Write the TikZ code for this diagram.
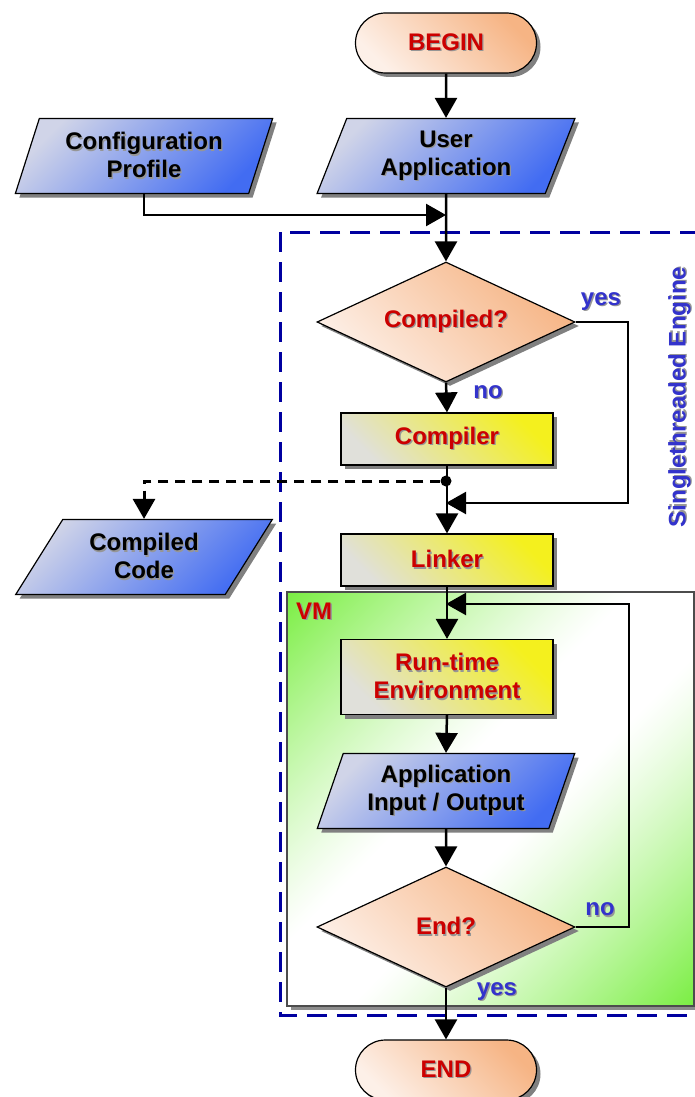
\documentclass[tikz,border=0pt]{standalone}
\usepackage{fontspec}
\setmainfont{Liberation Sans}
\usetikzlibrary{arrows.meta,shapes.geometric,shapes.misc,shadows}

\definecolor{txtred}{RGB}{204,0,0}
\definecolor{lblblue}{RGB}{51,51,204}
\definecolor{frameblue}{RGB}{0,0,160}
\definecolor{peachD}{RGB}{246,180,132}
\definecolor{peachL}{RGB}{253,240,232}
\definecolor{yelD}{RGB}{244,240,30}
\definecolor{yelL}{RGB}{224,224,218}
\definecolor{bluD}{RGB}{66,108,242}
\definecolor{bluL}{RGB}{208,212,232}
\definecolor{txtshadow}{RGB}{150,150,150}

% green in the top-left and bottom-right corners, white along the other diagonal
% (f = clamp((|y-x|/50 - 0.15)/0.85)^1.2, mixed from white to RGB 122,238,66)
\pgfdeclarefunctionalshading{vmdiag}{\pgfpointorigin}{\pgfpoint{100bp}{100bp}}{}{
  exch sub abs 50 div 0.15 sub 0.85 div dup abs add 2 div 1.2 exp
  dup dup
  0.741 mul 1 exch sub
  exch 0.067 mul 1 exch sub
  exch 3 -1 roll 0.522 mul 1 exch sub
  3 1 roll
}

% text with a soft offset shadow behind it
\newcommand\txtsh[1]{\makebox[0pt][l]{\hspace{1.3pt}\raisebox{-1.3pt}{\textcolor{txtshadow}{#1}}}#1}

\tikzset{
  txt/.style={font=\fontsize{24}{28}\selectfont\bfseries},
  base/.style={txt, align=center, inner sep=0pt, draw=black, line width=1.2pt,
    drop shadow={shadow xshift=4pt, shadow yshift=-4pt, fill=black!50, opacity=1}},
  terminal/.style={base, rounded rectangle, minimum width=181pt, minimum height=60pt,
    text=txtred, top color=peachD, bottom color=peachL, shading angle=-45},
  decision/.style={base, diamond, aspect=2.15, minimum width=258pt, minimum height=120pt,
    text=txtred, top color=peachD, bottom color=peachL, shading angle=-45},
  process/.style={base, rectangle, minimum width=212pt, minimum height=52pt,
    text=txtred, top color=yelD, bottom color=yelL, shading angle=-45},
  data/.style={base, trapezium, trapezium stretches=true, minimum width=258pt, minimum height=75pt,
    trapezium left angle=69, trapezium right angle=111,
    text=black, top color=bluL, bottom color=bluD, shading angle=45},
  lbl/.style={txt, text=lblblue, inner sep=0pt},
  arr/.style={line width=2.5pt, -{Triangle[width=22pt,length=20pt]}},
  loopline/.style={line width=2.2pt, -{Triangle[width=22pt,length=20pt]}},
  dasharr/.style={line width=3pt, dash pattern=on 10pt off 7pt, -{Triangle[width=22pt,length=20pt]}},
  enginebox/.style={draw=frameblue, line width=3pt, dash pattern=on 20pt off 10pt},
  vmbox/.style={draw=black!70, line width=1.5pt, inner sep=0pt, shading=vmdiag,
    drop shadow={shadow xshift=4pt, shadow yshift=-4pt, fill=black!45, opacity=1}}
}

\begin{document}
\begin{tikzpicture}[x=1pt,y=-1pt]
  \useasboundingbox (0,0) rectangle (695,1097);
  \clip (0,0) rectangle (695,1097);

  % engine frame and virtual machine area
  \draw[enginebox] (280,232) rectangle (712,1015);
  \node[vmbox, minimum width=407pt, minimum height=414pt] (vm) at (490.5,799) {};
  \node[txt, text=txtred, anchor=west, inner sep=0pt] (vmlbl) at (296,612) {\txtsh{VM}};
  \node[lbl, rotate=90] (engine) at (680,397) {\txtsh{Singlethreaded Engine}};

  % flow nodes
  \node[terminal] (begin) at (446,43) {\txtsh{BEGIN}};
  \node[data] (user) at (446,156) {\txtsh{User}\\\txtsh{Application}};
  \node[data] (cfg) at (144,156) {\txtsh{Configuration}\\\txtsh{Profile}};
  \node[decision] (comp) at (446,322) {\txtsh{Compiled?}};
  \node[process] (compiler) at (447,439) {\txtsh{Compiler}};
  \node[data, minimum width=257pt, trapezium left angle=56, trapezium right angle=124] (code) at (144,557) {\txtsh{Compiled}\\\txtsh{Code}};
  \node[process] (linker) at (447,560) {\txtsh{Linker}};
  \node[process, minimum height=75pt] (rte) at (447,677) {\txtsh{Run-time}\\\txtsh{Environment}};
  \node[data] (io) at (446,791) {\txtsh{Application}\\\txtsh{Input / Output}};
  \node[decision] (endq) at (446,927) {\txtsh{End?}};
  \node[terminal] (end) at (446,1070) {\txtsh{END}};

  % branch labels
  \node[lbl] (yes1) at (601,302) {\txtsh{yes}};
  \node[lbl] (no1) at (488,393) {\txtsh{no}};
  \node[lbl] (no2) at (600,910) {\txtsh{no}};
  \node[lbl] (yes2) at (497,992) {\txtsh{yes}};

  % junctions
  \coordinate (j1) at (446,215);
  \coordinate (j2) at (446,503);
  \coordinate (j3) at (446,604);
  \node[circle, fill=black, inner sep=0pt, minimum size=11pt] (dot) at (446,481) {};

  % connectors
  \draw[arr] (begin) -- (user);
  \draw[arr] (cfg.south) |- (j1);
  \draw[arr] (user.south) -- (comp.north);
  \draw[loopline] (comp.east) -- ++(52,0) |- (j2);
  \draw[arr] (comp.south) -- (compiler.north);
  \draw[arr] (compiler.south) -- (linker.north);
  \draw[dasharr] (dot) -| (code.north);
  \draw[arr] (linker.south) -- (rte.north);
  \draw[loopline] (endq.east) -- ++(53,0) |- (j3);
  \draw[arr] (rte.south) -- (io.north);
  \draw[arr] (io.south) -- (endq.north);
  \draw[arr] (endq.south) -- (end.north);
\end{tikzpicture}
\end{document}
